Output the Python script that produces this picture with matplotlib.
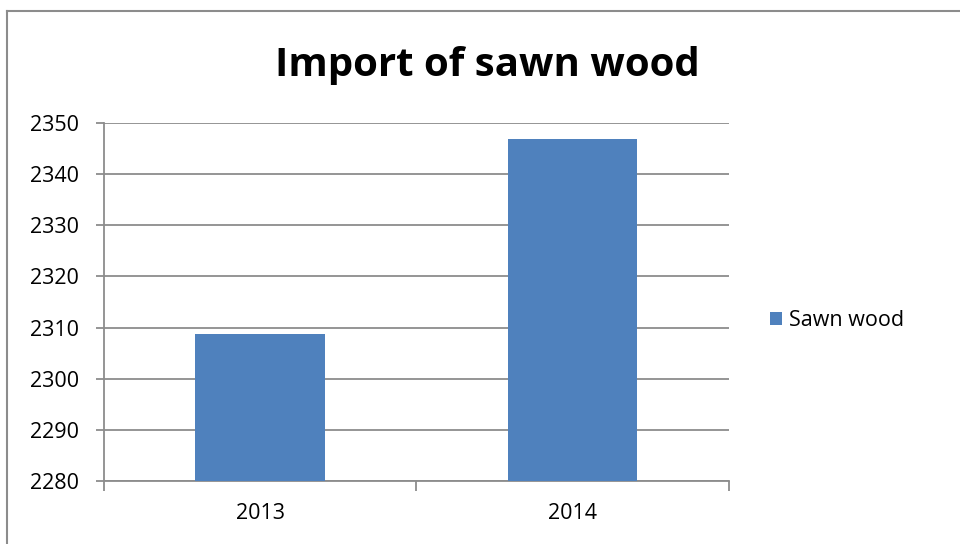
import matplotlib.pyplot as plt
from matplotlib.lines import Line2D

years = ["2013", "2014"]
sawn_wood = [2308.7, 2346.8]
y_ticks = [2280, 2290, 2300, 2310, 2320, 2330, 2340, 2350]

plt.rcParams['font.family'] = ['Open Sans', 'DejaVu Sans']

fig = plt.figure(figsize=(9.6, 5.44), dpi=100)
ax = fig.add_axes([0.1083, 0.1158, 0.6507, 0.6581])

x = list(range(len(years)))
ax.bar(x, [v - y_ticks[0] for v in sawn_wood], bottom=y_ticks[0], width=0.415,
       color="#4F81BD", label="Sawn wood", zorder=3)

ax.set_xlim(-0.5, 1.5)
ax.set_ylim(y_ticks[0], y_ticks[-1])
ax.set_yticks(y_ticks)
ax.set_yticklabels([str(t) for t in y_ticks], fontsize=15.5)
ax.yaxis.grid(True, color="#8c8c8c", linewidth=1.3, zorder=0)

# category labels in the middle, tick marks at the boundaries
ax.set_xticks([-0.5, 0.5, 1.5])
ax.set_xticklabels([])
ax.set_xticks(x, minor=True)
ax.set_xticklabels(years, minor=True, fontsize=15.5)
ax.tick_params(axis="x", which="minor", length=0, pad=16)
ax.tick_params(axis="x", which="major", length=7, color="#8c8c8c", width=1.3)
ax.tick_params(axis="y", length=6, color="#8c8c8c", width=1.3, pad=12)

for s in ["top", "right"]:
    ax.spines[s].set_visible(False)
for s in ["left", "bottom"]:
    ax.spines[s].set_color("#8c8c8c")
    ax.spines[s].set_linewidth(1.3)

fig.text(0.508, 0.860, "Import of sawn wood", ha="center", va="baseline",
         fontsize=29, fontweight="bold")

ax.legend(loc="center left", bbox_to_anchor=(770 / 960, 1 - 321 / 544),
          bbox_transform=fig.transFigure, frameon=False, borderaxespad=0,
          borderpad=0, fontsize=15.5, handlelength=0.55, handleheight=0.55,
          handletextpad=0.35)

# outer chart border (top and left edges visible in the crop)
fig.add_artist(Line2D([7 / 960, 7 / 960], [0, 1 - 11 / 544], transform=fig.transFigure,
                      color="#8c8c8c", linewidth=1.5))
fig.add_artist(Line2D([7 / 960, 1], [1 - 11 / 544, 1 - 11 / 544], transform=fig.transFigure,
                      color="#8c8c8c", linewidth=1.5))

fig.savefig("out.png", dpi=100)
